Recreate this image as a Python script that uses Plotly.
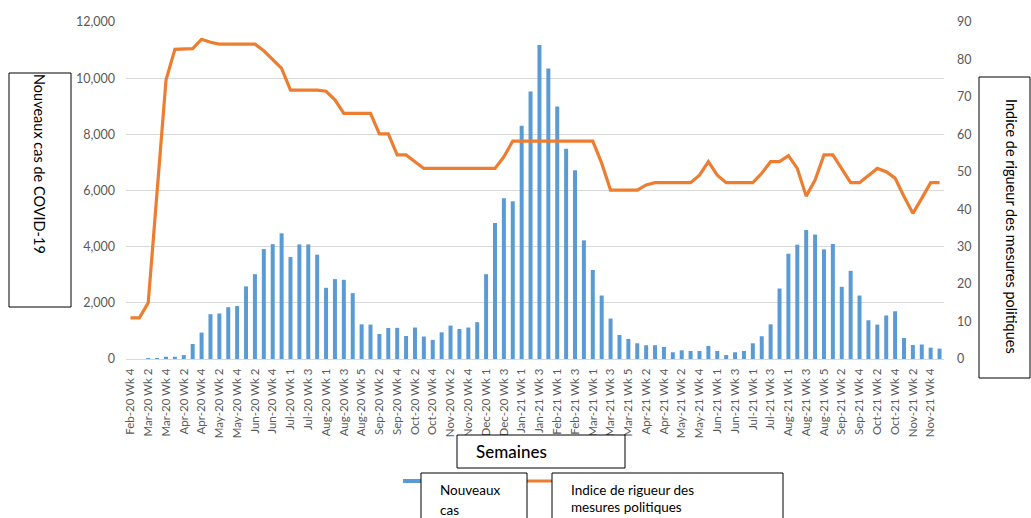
import plotly.graph_objects as go

# Weekly periods, Feb 2020 week 4 through Nov 2021
weeks = [
    "Feb-20 Wk 4", "Mar-20 Wk 1", "Mar-20 Wk 2", "Mar-20 Wk 3", "Mar-20 Wk 4",
    "Apr-20 Wk 1", "Apr-20 Wk 2", "Apr-20 Wk 3", "Apr-20 Wk 4",
    "May-20 Wk 1", "May-20 Wk 2", "May-20 Wk 3", "May-20 Wk 4",
    "Jun-20 Wk 1", "Jun-20 Wk 2", "Jun-20 Wk 3", "Jun-20 Wk 4", "Jun-20 Wk 5",
    "Jul-20 Wk 1", "Jul-20 Wk 2", "Jul-20 Wk 3", "Jul-20 Wk 4",
    "Aug-20 Wk 1", "Aug-20 Wk 2", "Aug-20 Wk 3", "Aug-20 Wk 4", "Aug-20 Wk 5",
    "Sep-20 Wk 1", "Sep-20 Wk 2", "Sep-20 Wk 3", "Sep-20 Wk 4",
    "Oct-20 Wk 1", "Oct-20 Wk 2", "Oct-20 Wk 3", "Oct-20 Wk 4",
    "Nov-20 Wk 1", "Nov-20 Wk 2", "Nov-20 Wk 3", "Nov-20 Wk 4", "Nov-20 Wk 5",
    "Dec-20 Wk 1", "Dec-20 Wk 2", "Dec-20 Wk 3", "Dec-20 Wk 4",
    "Jan-21 Wk 1", "Jan-21 Wk 2", "Jan-21 Wk 3", "Jan-21 Wk 4",
    "Feb-21 Wk 1", "Feb-21 Wk 2", "Feb-21 Wk 3", "Feb-21 Wk 4",
    "Mar-21 Wk 1", "Mar-21 Wk 2", "Mar-21 Wk 3", "Mar-21 Wk 4", "Mar-21 Wk 5",
    "Apr-21 Wk 1", "Apr-21 Wk 2", "Apr-21 Wk 3", "Apr-21 Wk 4",
    "May-21 Wk 1", "May-21 Wk 2", "May-21 Wk 3", "May-21 Wk 4", "May-21 Wk 5",
    "Jun-21 Wk 1", "Jun-21 Wk 2", "Jun-21 Wk 3", "Jun-21 Wk 4",
    "Jul-21 Wk 1", "Jul-21 Wk 2", "Jul-21 Wk 3", "Jul-21 Wk 4",
    "Aug-21 Wk 1", "Aug-21 Wk 2", "Aug-21 Wk 3", "Aug-21 Wk 4", "Aug-21 Wk 5",
    "Sep-21 Wk 1", "Sep-21 Wk 2", "Sep-21 Wk 3", "Sep-21 Wk 4",
    "Oct-21 Wk 1", "Oct-21 Wk 2", "Oct-21 Wk 3", "Oct-21 Wk 4",
    "Nov-21 Wk 1", "Nov-21 Wk 2", "Nov-21 Wk 3", "Nov-21 Wk 4", "Nov-21 Wk 5",
]

# Weekly new COVID-19 cases
new_cases = [
    0, 0, 5, 30, 80, 80, 140, 535, 940, 1595, 1620, 1845, 1890, 2585, 3020,
    3915, 4090, 4475, 3630, 4080, 4080, 3715, 2535, 2845, 2820, 2345, 1235,
    1225, 890, 1105, 1110, 820, 1120, 800, 680, 950, 1190, 1070, 1120, 1310,
    3020, 4845, 5725, 5620, 8310, 9525, 11180, 10345, 8990, 7490, 6725, 4225,
    3170, 2260, 1440, 855, 715, 560, 490, 490, 430, 240, 310, 285, 285, 465,
    285, 140, 240, 285, 560, 810, 1235, 2510, 3750, 4070, 4595, 4430, 3905,
    4095, 2570, 3140, 2260, 1380, 1225, 1550, 1700, 750, 500, 515, 405, 370,
]

# Policy stringency index
stringency = [
    11.0, 11.0, 15.0, 45.0, 74.5, 82.7, 82.7, 82.9, 85.4, 84.6, 84.1, 84.1,
    84.1, 84.1, 84.1, 82.3, 80.0, 77.6, 71.8, 71.8, 71.8, 71.8, 71.5, 69.2,
    65.6, 65.6, 65.6, 65.6, 60.1, 60.1, 54.5, 54.5, 52.7, 50.9, 50.9, 50.9,
    50.9, 50.9, 50.9, 50.9, 50.9, 50.9, 54.0, 58.2, 58.2, 58.2, 58.2, 58.2,
    58.2, 58.2, 58.2, 58.2, 58.2, 52.3, 45.1, 45.1, 45.1, 45.1, 46.5, 47.1,
    47.1, 47.1, 47.1, 47.1, 49.1, 52.7, 49.1, 47.1, 47.1, 47.1, 47.1, 49.6,
    52.7, 52.7, 54.3, 50.9, 43.5, 47.8, 54.5, 54.5, 50.9, 47.1, 47.1, 49.1,
    50.9, 50.0, 48.3, 43.4, 38.9, 42.9, 47.1, 47.1,
]

left_ticks = [0, 2000, 4000, 6000, 8000, 10000, 12000]
right_ticks = [0, 10, 20, 30, 40, 50, 60, 70, 80, 90]
shown_weeks = weeks[::2]

BLUE = "#5B9BD5"
ORANGE = "#ED7D31"
GREY_TXT = "#595959"
FONT = "Lato, 'Open Sans', sans-serif"

W, H = 1031, 518
PL, PR, PT, PB = 126, 944, 22, 359  # plot area edges in page pixels


def px(x):
    return (x - PL) / (PR - PL)


def py(y):
    return (PB - y) / (PB - PT)


fig = go.Figure()
fig.add_trace(go.Bar(
    x=weeks, y=new_cases, name="Nouveaux cas",
    marker=dict(color=BLUE, line=dict(width=0)),
    yaxis="y",
))
fig.add_trace(go.Scatter(
    x=weeks, y=stringency, name="Indice de rigueur des mesures politiques",
    mode="lines", line=dict(color=ORANGE, width=3.2),
    yaxis="y2",
))

shapes = []
annotations = []


def box(x0, y0, x1, y1):
    shapes.append(dict(type="rect", xref="paper", yref="paper",
                       x0=px(x0), x1=px(x1), y0=py(y0), y1=py(y1),
                       line=dict(color="#000000", width=1),
                       fillcolor="white", layer="above"))


def label(x, y, text, size, angle=0, xanchor="center", weight="normal"):
    annotations.append(dict(xref="paper", yref="paper", x=px(x), y=py(y),
                            text=text, showarrow=False, textangle=angle,
                            xanchor=xanchor, yanchor="middle",
                            font=dict(family=FONT, size=size, color="#000000",
                                      weight=weight)))


# axis title boxes
box(9, 73, 71, 307)
label(40, 164, "Nouveaux cas de COVID-19", 14.5, angle=90)
box(979, 77, 1030, 378)
label(1012, 226, "Indice de rigueur des mesures politiques", 14.5, angle=90)
box(457, 435, 625, 468)
label(474, 452, "Semaines", 17, xanchor="left", weight=500)

# legend keys and their boxes
shapes.append(dict(type="line", xref="paper", yref="paper",
                   x0=px(403), x1=px(421), y0=py(481), y1=py(481),
                   line=dict(color=BLUE, width=4)))
shapes.append(dict(type="line", xref="paper", yref="paper",
                   x0=px(527), x1=px(552), y0=py(481), y1=py(481),
                   line=dict(color=ORANGE, width=3)))
box(421, 473, 527, 540)
box(552, 473, 783, 540)
label(438, 490, "Nouveaux", 13.5, xanchor="left")
label(438, 510, "cas", 13.5, xanchor="left")
label(569, 490, "Indice de rigueur des", 13.5, xanchor="left")
label(569, 507, "mesures politiques", 13.5, xanchor="left")

fig.update_layout(
    width=W, height=H,
    margin=dict(l=PL, r=W - PR, t=PT, b=H - PB, pad=0),
    paper_bgcolor="white", plot_bgcolor="white",
    showlegend=False,
    bargap=0.55,
    font=dict(family=FONT, color=GREY_TXT),
    xaxis=dict(
        type="category", categoryorder="array", categoryarray=weeks,
        range=[-0.5, len(weeks) - 0.5],
        tickmode="array", tickvals=shown_weeks, ticktext=shown_weeks,
        tickangle=-90, tickfont=dict(size=11.5, color=GREY_TXT),
        showgrid=False, showline=True, linecolor="#D9D9D9", linewidth=1,
        ticks="", ticklabelstandoff=4, zeroline=False,
    ),
    yaxis=dict(
        range=[0, 12000], tickmode="array", tickvals=left_ticks,
        tickformat=",", tickfont=dict(size=12.5, color=GREY_TXT),
        showgrid=True, gridcolor="#D9D9D9", gridwidth=1,
        zeroline=False, showline=False, ticks="", ticklabelstandoff=10,
    ),
    yaxis2=dict(
        range=[0, 90], tickmode="array", tickvals=right_ticks,
        overlaying="y", side="right",
        tickfont=dict(size=12.5, color=GREY_TXT),
        showgrid=False, zeroline=False, showline=False, ticks="",
        ticklabelstandoff=12,
    ),
    shapes=shapes,
    annotations=annotations,
)

fig.write_html("out.html")
